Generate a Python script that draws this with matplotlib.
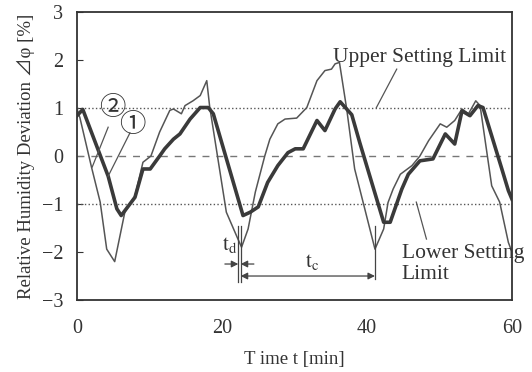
import matplotlib
matplotlib.use('Agg')
import matplotlib.pyplot as plt

plt.rcParams['font.family'] = ['Liberation Serif', 'Noto Sans CJK JP', 'DejaVu Sans']
plt.rcParams['mathtext.fontset'] = 'stix'

# curve 1 (thick)
t1 = [0, 0.8, 4.3, 5.5, 6.1, 6.6, 8.0, 9.1, 10.1, 11.4, 12.1, 13.3, 14.2, 15.6, 17.0,
      18.1, 18.8, 22.9, 23.9, 25.0, 26.3, 27.7, 29.1, 30.1, 31.2, 33.1, 34.2, 35.6,
      36.3, 37.9, 39.0, 42.3, 43.2, 44.8, 45.7, 47.3, 49.1, 50.8, 52.1, 53.1, 54.2,
      55.3, 56.0, 57.2, 58.6, 59.5, 60.0]
y1 = [0.84, 0.97, -0.42, -1.1, -1.24, -1.14, -0.86, -0.27, -0.27, 0.0, 0.15, 0.35,
      0.46, 0.77, 1.01, 1.01, 0.88, -1.24, -1.17, -1.06, -0.55, -0.2, 0.07, 0.15,
      0.15, 0.74, 0.53, 0.98, 1.13, 0.86, 0.28, -1.38, -1.38, -0.69, -0.38, -0.1,
      -0.06, 0.46, 0.25, 0.94, 0.84, 1.05, 1.01, 0.42, -0.27, -0.72, -0.9]

# curve 2 (thin)
t2 = [0, 0.4, 2.0, 3.2, 4.1, 5.2, 6.6, 8.0, 9.1, 10.2, 11.4, 12.8, 13.3, 14.4, 14.9,
      16.0, 17.0, 17.9, 18.3, 20.6, 22.2, 22.7, 23.6, 24.6, 25.9, 26.6, 27.7, 28.7,
      30.3, 31.7, 33.1, 34.2, 35.1, 35.6, 36.2, 37.2, 38.3, 41.1, 42.3, 42.9, 43.6,
      44.6, 46.2, 47.3, 48.5, 50.1, 51.0, 52.1, 53.1, 54.0, 55.0, 55.6, 57.2, 58.3,
      59.5, 60.0]
y2 = [0.98, 0.8, -0.23, -0.96, -1.94, -2.2, -1.17, -0.83, -0.13, 0.0, 0.5, 0.95,
      0.98, 0.88, 1.05, 1.15, 1.26, 1.57, 1.03, -1.17, -1.73, -1.9, -1.52, -0.75,
      0.0, 0.35, 0.67, 0.77, 0.79, 1.01, 1.57, 1.78, 1.81, 1.92, 1.95, 0.98, -0.27,
      -1.94, -1.52, -0.97, -0.69, -0.38, -0.2, 0.0, 0.32, 0.67, 0.6, 0.74, 0.98,
      0.88, 1.15, 1.05, -0.62, -0.96, -1.8, -2.0]

upper_limit = 1
lower_limit = -1
x_ticks = [0, 20, 40, 60]
y_ticks = [-3, -2, -1, 0, 1, 2, 3]

fig = plt.figure(figsize=(5.32, 3.72), dpi=100)
ax = fig.add_axes([0.1447, 0.1935, 0.8177, 0.7742])

ax.axhline(upper_limit, ls=':', color='#555555', lw=1)
ax.axhline(lower_limit, ls=':', color='#555555', lw=1)
ax.axhline(0, ls=(0, (5, 5)), color='#777777', lw=1)

ax.plot(t2, y2, color='#555555', lw=1.1)
ax.plot(t1, y1, color='#3a3a3a', lw=2.6)

ax.set_xlim(0, 60)
ax.set_ylim(-3, 3)
ax.set_xticks(x_ticks)
ax.set_yticks(y_ticks)
ax.tick_params(axis='y', direction='in', length=4, pad=10, labelsize=14.5, colors='#333333')
ax.tick_params(axis='x', length=0, pad=14, labelsize=14.5, colors='#333333')
for s in ax.spines.values():
    s.set_linewidth(1.3)
    s.set_color('#333333')

ax.set_xlabel('T ime t [min]', fontsize=13.5, color='#333333', labelpad=9)
ax.set_ylabel('Relative Humidity Deviation ⊿φ [%]', fontsize=13.5, color='#333333', labelpad=5)

# annotations
tc = '#333333'
ax.text(35.3, 1.96, 'Upper Setting Limit', fontsize=15.5, color=tc, va='baseline')
ax.plot([44.1, 41.3], [1.81, 1.01], color='#555555', lw=0.9)
ax.text(44.8, -2.125, 'Lower Setting', fontsize=15.5, color=tc, va='baseline', clip_on=False)
ax.text(44.8, -2.56, 'Limit', fontsize=15.5, color=tc, va='baseline')
ax.plot([48.2, 46.8], [-1.73, -0.96], color='#555555', lw=0.9)

ax.text(4.9, 1.0, '②', fontsize=19, color=tc, ha='center', va='center')
ax.text(7.6, 0.64, '①', fontsize=19, color=tc, ha='center', va='center')
ax.plot([4.3, 2.1], [0.6, -0.23], color='#555555', lw=0.9)
ax.plot([7.3, 4.3], [0.48, -0.42], color='#555555', lw=0.9)

# t_d and t_c markers
ax.plot([22.25, 22.25], [-1.46, -2.62], color='#444444', lw=0.9)
ax.plot([22.58, 22.58], [-1.46, -2.62], color='#444444', lw=0.9)
ax.plot([41.1, 41.1], [-1.46, -2.56], color='#444444', lw=0.9)
ax.annotate('', xy=(22.25, -2.25), xytext=(20.4, -2.25),
            arrowprops=dict(arrowstyle='-|>', color='#444444', lw=0.9, shrinkA=0, shrinkB=0))
ax.annotate('', xy=(22.58, -2.25), xytext=(24.4, -2.25),
            arrowprops=dict(arrowstyle='-|>', color='#444444', lw=0.9, shrinkA=0, shrinkB=0))
ax.annotate('', xy=(22.58, -2.5), xytext=(41.1, -2.5),
            arrowprops=dict(arrowstyle='<|-|>', color='#444444', lw=0.9, shrinkA=0, shrinkB=0))
ax.text(21.1, -1.85, r'$\mathrm{t_d}$', fontsize=15, color=tc, ha='center', va='center')
ax.text(32.4, -2.2, r'$\mathrm{t_c}$', fontsize=15, color=tc, ha='center', va='center')

fig.savefig('out.png', dpi=100)
